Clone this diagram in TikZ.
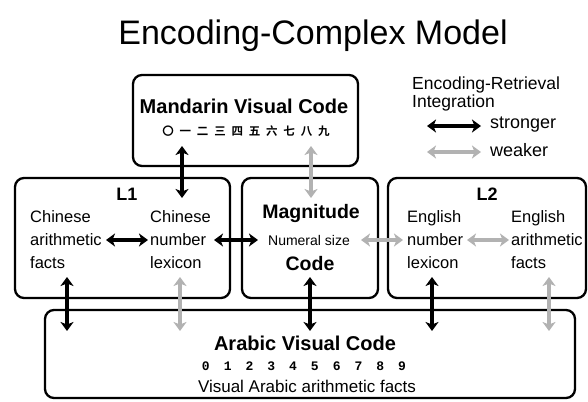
\documentclass[tikz,border=0pt]{standalone}
\usepackage{fontspec}
\setmainfont{Liberation Sans}
\newfontfamily\cjkfont{Noto Sans CJK SC}[BoldFont={* Bold}]
\newfontfamily\digitfont{Liberation Mono}
\usetikzlibrary{arrows.meta}
\definecolor{arrowgray}{RGB}{178,178,178}
\tikzset{
  box/.style={draw, line width=2.3pt, rounded corners=9pt, inner sep=0pt},
  blk/.style={line width=3.4pt, {Stealth[length=9pt,width=13pt,inset=2.5pt]}-{Stealth[length=9pt,width=13pt,inset=2.5pt]}},
  gry/.style={blk, draw=arrowgray},
  lbl/.style={inner sep=0pt, font=\fontsize{16.5}{23}\selectfont, align=left},
  hdr/.style={inner sep=0pt, font=\fontsize{19.5}{22}\selectfont\bfseries},
}
\begin{document}
\begin{tikzpicture}[x=1pt,y=-1pt]
\useasboundingbox (0,0) rectangle (588,401);
% title
\node[inner sep=0pt, font=\fontsize{34}{36}\selectfont] (title) at (313,36) {Encoding-Complex Model};
% boxes
\node[box, minimum width=225pt, minimum height=91pt] (mand) at (245.5,120.5) {};
\node[box, minimum width=215pt, minimum height=120pt] (l1) at (122.5,238) {};
\node[box, minimum width=136pt, minimum height=120pt] (mag) at (310,238) {};
\node[box, minimum width=198pt, minimum height=120pt] (l2) at (487,238) {};
\node[box, minimum width=530pt, minimum height=88pt] (arab) at (310,354) {};
% Mandarin text
\node[hdr, font=\fontsize{20}{22}\selectfont\bfseries] (mandt) at (244,106) {Mandarin Visual Code};
\node[inner sep=0pt, font=\cjkfont\bfseries\fontsize{11.5}{12}\selectfont] (mandn) at (246,131)
  {〇\hspace{5.8pt}一\hspace{5.8pt}二\hspace{5.8pt}三\hspace{5.8pt}四\hspace{5.8pt}五\hspace{5.8pt}六\hspace{5.8pt}七\hspace{5.8pt}八\hspace{5.8pt}九};
% L1
\node[hdr, font=\fontsize{18}{20}\selectfont\bfseries] (l1t) at (127,194) {L1};
\node[lbl, anchor=west] (cfacts) at (30,240) {Chinese\\arithmetic\\facts};
\node[lbl, anchor=west] (clex) at (150,240) {Chinese\\number\\lexicon};
% Magnitude
\node[hdr] (magt) at (311,213) {Magnitude};
\node[inner sep=0pt, font=\fontsize{14}{16}\selectfont] (magn) at (309,240) {Numeral size};
\node[hdr] (magc) at (310,264) {Code};
% L2
\node[hdr, font=\fontsize{18}{20}\selectfont\bfseries] (l2t) at (487,194) {L2};
\node[lbl, anchor=west] (elex) at (407,240) {English\\number\\lexicon};
\node[lbl, anchor=west] (efacts) at (511,240) {English\\arithmetic\\facts};
% Arabic
\node[hdr, font=\fontsize{20}{22}\selectfont\bfseries] (arabt) at (305,343) {Arabic Visual Code};
\node[inner sep=0pt, font=\digitfont\bfseries\fontsize{13}{14}\selectfont] (arabd) at (304,366)
  {0\hspace{14pt}1\hspace{14pt}2\hspace{14pt}3\hspace{14pt}4\hspace{14pt}5\hspace{14pt}6\hspace{14pt}7\hspace{14pt}8\hspace{14pt}9};
\node[inner sep=0pt, font=\fontsize{17}{18}\selectfont] (arabf) at (307,386) {Visual Arabic arithmetic facts};
% legend
\node[lbl, anchor=north west, font=\fontsize{17.5}{18}\selectfont] (leg) at (412,77) {Encoding-Retrieval\\Integration};
\node[inner sep=0pt, anchor=west, font=\fontsize{18}{20}\selectfont] (strong) at (490,125) {stronger};
\node[inner sep=0pt, anchor=west, font=\fontsize{18}{20}\selectfont] (weak) at (490,150) {weaker};
\coordinate (lsA) at (427,126); \coordinate (lsB) at (481,126);
\coordinate (lwA) at (427,152); \coordinate (lwB) at (481,152);
\draw[blk] (lsA) -- (lsB);
\draw[gry] (lwA) -- (lwB);
% horizontal arrows
\coordinate (h1a) at (106,240); \coordinate (h1b) at (148,240);
\coordinate (h2a) at (214,240); \coordinate (h2b) at (258,240);
\coordinate (h3a) at (361,240); \coordinate (h3b) at (403,240);
\coordinate (h4a) at (467,240); \coordinate (h4b) at (509,240);
\draw[blk] (h1a) -- (h1b);
\draw[blk] (h2a) -- (h2b);
\draw[gry] (h3a) -- (h3b);
\draw[gry] (h4a) -- (h4b);
% vertical arrows top
\coordinate (v1a) at (182,146); \coordinate (v1b) at (182,198);
\coordinate (v2a) at (311,146); \coordinate (v2b) at (311,198);
\draw[blk] (v1a) -- (v1b);
\draw[gry] (v2a) -- (v2b);
% vertical arrows bottom
\coordinate (w1a) at (67,277); \coordinate (w1b) at (67,331);
\coordinate (w2a) at (180,277); \coordinate (w2b) at (180,331);
\coordinate (w3a) at (310,277); \coordinate (w3b) at (310,331);
\coordinate (w4a) at (432,277); \coordinate (w4b) at (432,331);
\coordinate (w5a) at (549,277); \coordinate (w5b) at (549,331);
\draw[blk] (w1a) -- (w1b);
\draw[gry] (w2a) -- (w2b);
\draw[blk] (w3a) -- (w3b);
\draw[blk] (w4a) -- (w4b);
\draw[gry] (w5a) -- (w5b);
\end{tikzpicture}
\end{document}
